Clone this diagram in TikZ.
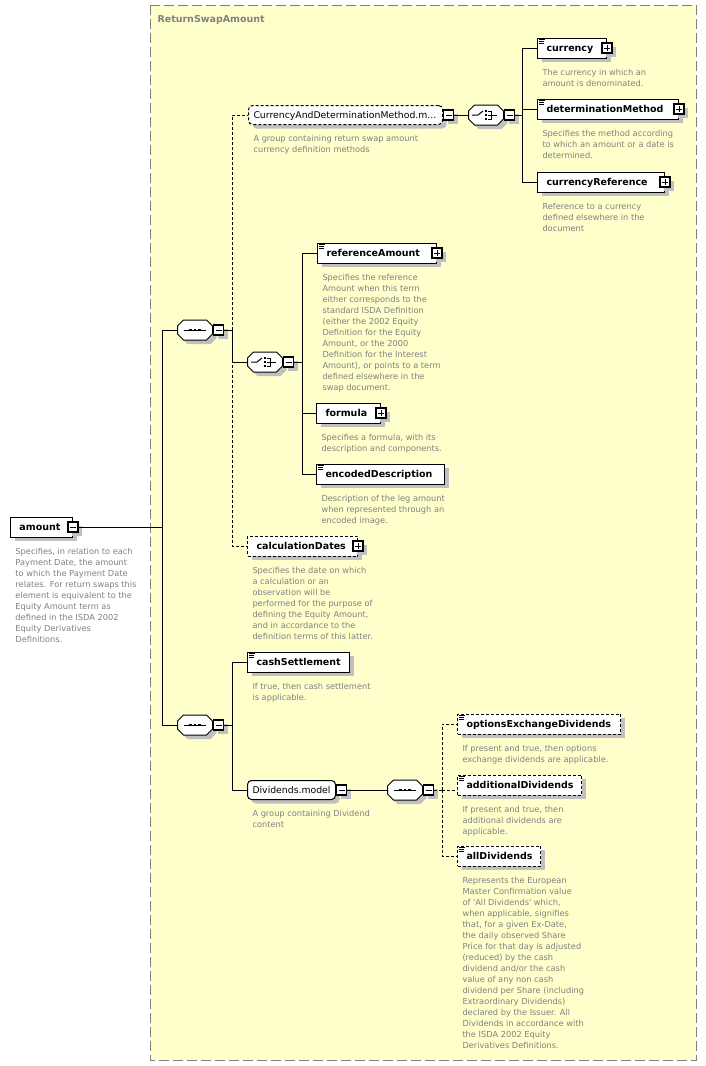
\documentclass[tikz,border=0pt]{standalone}
\usepackage{fontspec}
\setmainfont{DejaVu Sans}
\usetikzlibrary{shapes.misc,shadows,positioning}

\definecolor{typefill}{RGB}{255,255,204}
\definecolor{descgray}{RGB}{128,128,128}
\definecolor{shadegray}{RGB}{192,192,192}

\newcommand{\namefont}{\bfseries\fontsize{9.5}{11}\selectfont}
\newcommand{\groupfont}{\fontsize{9.3}{11}\selectfont}
\newcommand{\descfont}{\fontsize{8.25}{11}\selectfont}

\tikzset{
  boxshadow/.style={drop shadow={shadow xshift=4pt, shadow yshift=-4pt, fill=shadegray, opacity=1}},
  dashline/.style={dash pattern=on 3pt off 2pt},
  elem/.style={draw, fill=white, boxshadow, anchor=west, minimum height=20pt, inner xsep=9pt, inner ysep=0pt,
    text width=#1pt, text height=7.5pt, text depth=0.5pt, align=left, font=\namefont},
  optelem/.style={elem=#1, dashline},
  group/.style={draw, fill=white, boxshadow, rounded corners=4pt, anchor=west, minimum height=19pt, inner xsep=5pt, inner ysep=0pt,
    text width=#1pt, text height=7.5pt, text depth=0.5pt, align=left, font=\groupfont},
  compositor/.style={draw, fill=white, boxshadow, chamfered rectangle, chamfered rectangle xsep=3pt, chamfered rectangle ysep=3pt,
    inner xsep=14.5pt, inner ysep=7pt, anchor=west},
  btn/.style={draw, fill=white, boxshadow, minimum width=10pt, minimum height=10pt, inner sep=0pt, line width=1.2pt},
  minusbtn/.style={btn, path picture={
    \draw[line width=1pt] ([xshift=2pt]path picture bounding box.west) -- ([xshift=-2pt]path picture bounding box.east);}},
  plusbtn/.style={btn, path picture={
    \draw[line width=1pt] ([xshift=2pt]path picture bounding box.west) -- ([xshift=-2pt]path picture bounding box.east);
    \draw[line width=1pt] ([yshift=2pt]path picture bounding box.south) -- ([yshift=-2pt]path picture bounding box.north);}},
  desc/.style={inner sep=0pt, align=left, text=descgray, font=\descfont}
}

\begin{document}
\begin{tikzpicture}[x=1pt, y=-1pt, line width=1pt]
  \useasboundingbox (0,0) rectangle (706,1066);
  % complex type
  \draw[descgray, fill=typefill, dash pattern=on 10pt off 4pt] (150,5) rectangle (696,1060);
  \node[anchor=base west, inner sep=0pt, font=\namefont, text=descgray] (typeTitle) at (157,22) {ReturnSwapAmount};

  \node[elem=44] (amount) at (10,527) {amount};
  \node[minusbtn] (amountB) at (amount.east) {};
  \node[desc, below right=10pt and 5pt of amount.south west] (amountD) {Specifies, in relation to each\\Payment Date, the amount\\to which the Payment Date\\relates. For return swaps this\\element is equivalent to the\\Equity Amount term as\\defined in the ISDA 2002\\Equity Derivatives\\Definitions.};

  \node[compositor] (seqA) at (177,330) {};
  \node[minusbtn, right=0pt of seqA] (seqAB) {};
  \node[compositor] (seqB) at (177,725) {};
  \node[minusbtn, right=0pt of seqB] (seqBB) {};

  \node[group=184, dashline] (curDet) at (248,115) {CurrencyAndDeterminationMethod.m...};
  \node[minusbtn, right=0pt of curDet] (curDetB) {};
  \node[desc, below right=10pt and 5pt of curDet.south west] (curDetD) {A group containing return swap amount\\currency definition methods};

  \node[compositor] (choiceA) at (468,115) {};
  \node[minusbtn, right=0pt of choiceA] (choiceAB) {};

  \node[elem=51] (currency) at (537,48) {currency};
  \node[plusbtn] (currencyB) at (currency.east) {};
  \node[desc, below right=10pt and 5pt of currency.south west] (currencyD) {The currency in which an\\amount is denominated.};
  \node[elem=123] (detMethod) at (537,109) {determinationMethod};
  \node[plusbtn] (detMethodB) at (detMethod.east) {};
  \node[desc, below right=10pt and 5pt of detMethod.south west] (detMethodD) {Specifies the method according\\to which an amount or a date is\\determined.};
  \node[elem=109] (curRef) at (537,182) {currencyReference};
  \node[plusbtn] (curRefB) at (curRef.east) {};
  \node[desc, below right=10pt and 5pt of curRef.south west] (curRefD) {Reference to a currency\\defined elsewhere in the\\document};

  \node[compositor] (choiceB) at (247,362) {};
  \node[minusbtn, right=0pt of choiceB] (choiceBB) {};

  \node[elem=101] (refAmount) at (317,253) {referenceAmount};
  \node[plusbtn] (refAmountB) at (refAmount.east) {};
  \node[desc, below right=10pt and 5pt of refAmount.south west] (refAmountD) {Specifies the reference\\Amount when this term\\either corresponds to the\\standard ISDA Definition\\(either the 2002 Equity\\Definition for the Equity\\Amount, or the 2000\\Definition for the Interest\\Amount), or points to a term\\defined elsewhere in the\\swap document.};
  \node[elem=46] (formula) at (316,413) {formula};
  \node[plusbtn] (formulaB) at (formula.east) {};
  \node[desc, below right=10pt and 5pt of formula.south west] (formulaD) {Specifies a formula, with its\\description and components.};
  \node[elem=110] (encDesc) at (316,474) {encodedDescription};
  \node[desc, below right=10pt and 5pt of encDesc.south west] (encDescD) {Description of the leg amount\\when represented through an\\encoded image.};

  \node[optelem=92] (calcDates) at (247,546) {calculationDates};
  \node[plusbtn] (calcDatesB) at (calcDates.east) {};
  \node[desc, below right=10pt and 5pt of calcDates.south west] (calcDatesD) {Specifies the date on which\\a calculation or an\\observation will be\\performed for the purpose of\\defining the Equity Amount,\\and in accordance to the\\definition terms of this latter.};

  \node[elem=84] (cashSettle) at (247,662) {cashSettlement};
  \node[desc, below right=10pt and 5pt of cashSettle.south west] (cashSettleD) {If true, then cash settlement\\is applicable.};
  \node[group=78] (divModel) at (247,790) {Dividends.model};
  \node[minusbtn, right=0pt of divModel] (divModelB) {};
  \node[desc, below right=10pt and 5pt of divModel.south west] (divModelD) {A group containing Dividend\\content};

  \node[compositor] (seqC) at (387,790) {};
  \node[minusbtn, right=0pt of seqC] (seqCB) {};

  \node[optelem=145] (optDiv) at (457,724) {optionsExchangeDividends};
  \node[desc, below right=10pt and 5pt of optDiv.south west] (optDivD) {If present and true, then options\\exchange dividends are applicable.};
  \node[optelem=106] (addDiv) at (457,785) {additionalDividends};
  \node[desc, below right=10pt and 5pt of addDiv.south west] (addDivD) {If present and true, then\\additional dividends are\\applicable.};
  \node[optelem=65] (allDiv) at (457,856) {allDividends};
  \node[desc, below right=10pt and 5pt of allDiv.south west] (allDivD) {Represents the European\\Master Confirmation value\\of \textquotesingle All Dividends\textquotesingle{} which,\\when applicable, signifies\\that, for a given Ex-Date,\\the daily observed Share\\Price for that day is adjusted\\(reduced) by the cash\\dividend and/or the cash\\value of any non cash\\dividend per Share (including\\Extraordinary Dividends)\\declared by the Issuer. All\\Dividends in accordance with\\the ISDA 2002 Equity\\Derivatives Definitions.};

  % icons
  \foreach \e in {currency,detMethod,refAmount,encDesc,cashSettle,optDiv,addDiv,allDiv}
    \foreach \dy/\len in {2/6,4/5,6/5}
      \draw[line width=0.8pt] ([shift={(2,\dy)}]\e.north west) -- ++(\len,0);
  \foreach \s in {seqA,seqB,seqC} {
    \draw ([xshift=-11pt]\s.center) -- ([xshift=11pt]\s.center);
    \foreach \dx in {-4.5,0,4.5}
      \fill ([shift={(\dx-1.3,-1.3)}]\s.center) rectangle +(2.6,2.6);
  }
  \foreach \c in {choiceA,choiceB} {
    \draw ([xshift=-14pt]\c.center) -- ([xshift=-8pt]\c.center) -- ([shift={(-3,-4)}]\c.center);
    \foreach \dy in {-4,0,4}
      \fill ([shift={(-1.2,\dy-1.2)}]\c.center) rectangle +(2.4,2.4);
    \draw ([shift={(1.5,-4)}]\c.center) -| ([shift={(5.5,4)}]\c.center) -- ([shift={(1.5,4)}]\c.center);
    \draw ([shift={(1.5,0)}]\c.center) -- ([shift={(11,0)}]\c.center);
  }

  % connectors
  \coordinate (trunk) at (162,527);
  \coordinate (seqAfork) at (232,330);
  \coordinate (choiceAfork) at (522,115);
  \coordinate (choiceBfork) at (302,362);
  \coordinate (seqBfork) at (232,725);
  \coordinate (seqCfork) at (442,790);
  \draw (amountB.east) -- (trunk) |- (seqA.west);
  \draw (trunk) |- (seqB.west);
  \draw[dashline] (seqAfork) |- (curDet.west);
  \draw[dashline] (seqAfork) |- (calcDates.west);
  \draw (seqAB.east) -- (seqAfork) |- (choiceB.west);
  \draw (curDetB.east) -- (choiceA.west);
  \draw (choiceAB.east) -- (choiceAfork);
  \foreach \e in {currency,detMethod,curRef}
    \draw (choiceAfork) |- (\e.west);
  \draw (choiceBB.east) -- (choiceBfork);
  \foreach \e in {refAmount,formula,encDesc}
    \draw (choiceBfork) |- (\e.west);
  \draw (seqBB.east) -- (seqBfork);
  \foreach \e in {cashSettle,divModel}
    \draw (seqBfork) |- (\e.west);
  \draw (divModelB.east) -- (seqC.west);
  \draw[dashline] (seqCB.east) -- (seqCfork);
  \draw[dashline] (seqCfork) |- (optDiv.west);
  \draw[dashline] (seqCfork) -- (addDiv.west |- seqCfork);
  \draw[dashline] (seqCfork) |- (allDiv.west);
\end{tikzpicture}
\end{document}
